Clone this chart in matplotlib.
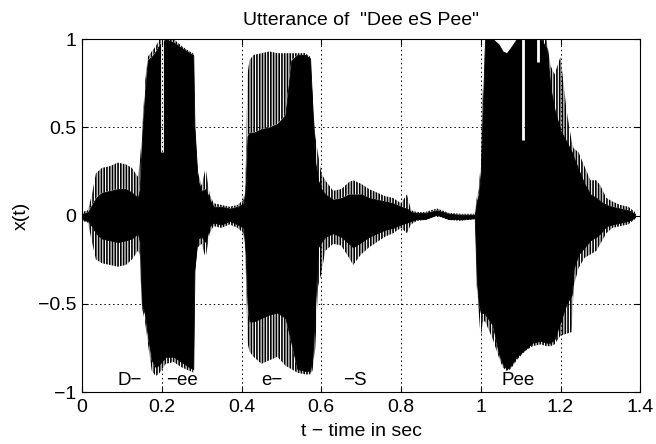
import numpy as np
import matplotlib
matplotlib.use("Agg")
import matplotlib.pyplot as plt

plt.rcParams['font.family'] = ['Liberation Sans', 'DejaVu Sans']
plt.rcParams['hatch.linewidth'] = 1.2

# envelope of the waveform
# t, outer tips top, solid core top, solid core bottom, outer tips bottom
t = [0.000, 0.015, 0.025, 0.035, 0.050, 0.070, 0.090, 0.110, 0.125, 0.140,
     0.145, 0.150, 0.158, 0.165, 0.175, 0.185, 0.195, 0.210, 0.230, 0.250,
     0.270, 0.279, 0.282, 0.290, 0.300, 0.310, 0.320, 0.330, 0.350, 0.370,
     0.390, 0.405, 0.410, 0.415, 0.420, 0.430, 0.450, 0.470, 0.490, 0.510,
     0.525, 0.540, 0.560, 0.572, 0.578, 0.585, 0.592, 0.600, 0.610, 0.630,
     0.650, 0.670, 0.680, 0.700, 0.720, 0.740, 0.760, 0.780, 0.800, 0.815,
     0.825, 0.840, 0.860, 0.890, 0.920, 0.950, 0.985, 0.990, 0.995, 1.000,
     1.005, 1.011, 1.030, 1.045, 1.055, 1.065, 1.075, 1.090, 1.110, 1.130,
     1.150, 1.165, 1.175, 1.185, 1.200, 1.215, 1.228, 1.233, 1.245, 1.260,
     1.275, 1.290, 1.300, 1.315, 1.330, 1.350, 1.370, 1.387]
tips_top = [0.02, 0.03, 0.12, 0.24, 0.27, 0.28, 0.30, 0.29, 0.27, 0.22,
            0.30, 0.45, 0.75, 0.90, 0.93, 0.96, 1.00, 1.00, 1.00, 0.96,
            0.93, 0.92, 0.55, 0.25, 0.17, 0.27, 0.12, 0.07, 0.06, 0.05,
            0.06, 0.09, 0.18, 0.80, 0.88, 0.91, 0.92, 0.93, 0.92, 0.92,
            0.92, 0.92, 0.92, 0.90, 0.68, 0.45, 0.35, 0.24, 0.20, 0.14,
            0.15, 0.19, 0.20, 0.18, 0.15, 0.13, 0.11, 0.10, 0.07, 0.12,
            0.03, 0.02, 0.02, 0.04, 0.015, 0.01, 0.01, 0.10, 0.15, 0.30,
            0.70, 1.00, 1.00, 0.97, 0.93, 0.92, 0.95, 1.00, 1.00, 1.00,
            1.00, 1.00, 0.85, 0.80, 0.90, 0.60, 0.42, 0.38, 0.36, 0.28,
            0.20, 0.20, 0.17, 0.10, 0.08, 0.06, 0.05, 0.02]
core_top = [0.01, 0.02, 0.06, 0.10, 0.13, 0.14, 0.15, 0.15, 0.13, 0.10,
            0.15, 0.42, 0.70, 0.88, 0.90, 0.93, 0.97, 1.00, 0.98, 0.95,
            0.92, 0.91, 0.50, 0.20, 0.14, 0.15, 0.09, 0.05, 0.05, 0.04,
            0.05, 0.07, 0.15, 0.45, 0.47, 0.47, 0.49, 0.50, 0.52, 0.57,
            0.88, 0.91, 0.91, 0.89, 0.60, 0.30, 0.20, 0.15, 0.12, 0.09,
            0.10, 0.12, 0.12, 0.12, 0.10, 0.09, 0.08, 0.07, 0.05, 0.04,
            0.02, 0.015, 0.015, 0.03, 0.01, 0.005, 0.005, 0.08, 0.12, 0.25,
            0.60, 1.00, 1.00, 0.97, 0.93, 0.92, 0.95, 1.00, 1.00, 1.00,
            1.00, 0.95, 0.72, 0.60, 0.48, 0.42, 0.36, 0.33, 0.26, 0.18,
            0.12, 0.10, 0.08, 0.06, 0.05, 0.04, 0.03, 0.01]
core_bot = [-0.02, -0.03, -0.06, -0.10, -0.13, -0.14, -0.15, -0.14, -0.13, -0.10,
            -0.15, -0.50, -0.56, -0.68, -0.82, -0.86, -0.84, -0.80, -0.80, -0.83,
            -0.86, -0.87, -0.30, -0.13, -0.12, -0.15, -0.06, -0.04, -0.05, -0.03,
            -0.05, -0.07, -0.20, -0.50, -0.60, -0.60, -0.58, -0.56, -0.55, -0.58,
            -0.72, -0.87, -0.88, -0.88, -0.80, -0.50, -0.18, -0.15, -0.12, -0.10,
            -0.12, -0.16, -0.18, -0.15, -0.12, -0.10, -0.08, -0.07, -0.05, -0.04,
            -0.03, -0.02, -0.02, 0.005, -0.02, -0.02, -0.015, -0.37, -0.50, -0.55,
            -0.55, -0.56, -0.62, -0.78, -0.84, -0.87, -0.85, -0.80, -0.76, -0.72,
            -0.71, -0.72, -0.72, -0.70, -0.60, -0.50, -0.45, -0.30, -0.22, -0.18,
            -0.14, -0.12, -0.10, -0.06, -0.05, -0.04, -0.03, -0.01]
tips_bot = [-0.03, -0.04, -0.15, -0.25, -0.27, -0.28, -0.29, -0.28, -0.25, -0.20,
            -0.22, -0.52, -0.60, -0.72, -0.88, -0.91, -0.89, -0.84, -0.83, -0.86,
            -0.88, -0.89, -0.35, -0.18, -0.16, -0.24, -0.10, -0.06, -0.07, -0.05,
            -0.07, -0.10, -0.22, -0.72, -0.77, -0.80, -0.84, -0.82, -0.80, -0.85,
            -0.87, -0.89, -0.90, -0.90, -0.88, -0.75, -0.40, -0.33, -0.20, -0.16,
            -0.17, -0.24, -0.28, -0.22, -0.18, -0.15, -0.12, -0.10, -0.07, -0.10,
            -0.05, -0.03, -0.025, 0.0, -0.025, -0.03, -0.02, -0.40, -0.55, -0.70,
            -0.60, -0.60, -0.70, -0.80, -0.86, -0.88, -0.87, -0.82, -0.77, -0.74,
            -0.73, -0.74, -0.74, -0.73, -0.68, -0.67, -0.66, -0.40, -0.30, -0.24,
            -0.22, -0.20, -0.16, -0.10, -0.07, -0.06, -0.05, -0.02]

# white dropouts inside the waveform: t, from, to
gap_t = [0.201, 1.107, 1.144]
gap_lo = [0.36, 0.43, 0.87]
gap_hi = [1.0, 1.0, 1.0]

# phoneme labels
label_text = ['D\u2212', '\u2212ee', 'e\u2212', '\u2212S', 'Pee']
label_t = [0.12, 0.25, 0.477, 0.684, 1.093]

xticks = [0, 0.2, 0.4, 0.6, 0.8, 1.0, 1.2, 1.4]
xticklabels = ['0', '0.2', '0.4', '0.6', '0.8', '1', '1.2', '1.4']
yticks = [-1, -0.5, 0, 0.5, 1]
yticklabels = ['\u22121', '\u22120.5', '0', '0.5', '1']

fig = plt.figure(figsize=(6.56, 4.44), dpi=100)
ax = fig.add_axes([0.125, 0.117, 0.851, 0.795])

ax.fill_between(t, core_bot, core_top, color='black', linewidth=0.6)
ax.fill_between(t, core_top, tips_top, facecolor='none', edgecolor='black',
                hatch='||||||', linewidth=0)
ax.fill_between(t, tips_bot, core_bot, facecolor='none', edgecolor='black',
                hatch='||||||', linewidth=0)
ax.vlines(gap_t, gap_lo, gap_hi, color='white', linewidth=2)

for s, x in zip(label_text, label_t):
    ax.text(x, -0.985, s, ha='center', va='bottom', fontsize=13.5)

ax.set_xlim(0, 1.4)
ax.set_ylim(-1, 1)
ax.set_xticks(xticks)
ax.set_xticklabels(xticklabels)
ax.set_yticks(yticks)
ax.set_yticklabels(yticklabels)
ax.tick_params(direction='in', length=4, width=0.8, top=True, right=True,
               labelsize=14)
ax.tick_params(axis='x', pad=5)
ax.tick_params(axis='y', pad=4)
ax.set_axisbelow(False)
ax.grid(True, color='black', linestyle=(0, (1.5, 3)), linewidth=0.7)
for sp in ax.spines.values():
    sp.set_linewidth(0.8)

ax.set_title('Utterance of  "Dee eS Pee"', fontsize=14, pad=10)
ax.set_xlabel('t \u2212 time in sec', fontsize=14, labelpad=5)
ax.set_ylabel('x(t)', fontsize=14, labelpad=6)

fig.savefig('out.png', dpi=100)
